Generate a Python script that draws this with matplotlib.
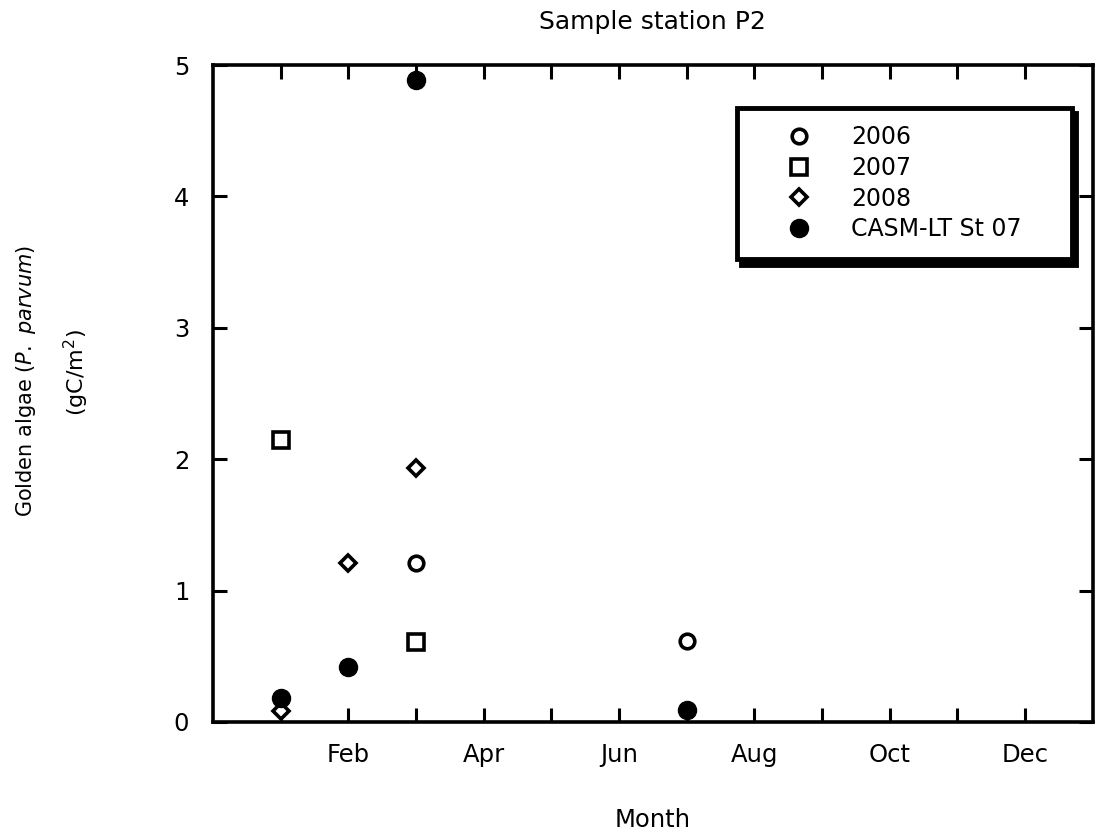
import numpy as np
import matplotlib
matplotlib.use("Agg")
import matplotlib.pyplot as plt

plt.rcParams['font.family'] = ['DejaVu Sans']
plt.rcParams['mathtext.fontset'] = 'dejavusans'

# month number (1 = Jan) and biomass in gC/m2
month_2006 = [3, 7]
val_2006 = [1.21, 0.62]
month_2007 = [1, 3]
val_2007 = [2.15, 0.61]
month_2008 = [1, 2, 3]
val_2008 = [0.08, 1.21, 1.93]
month_casm = [1, 2, 3, 7]
val_casm = [0.18, 0.42, 4.89, 0.09]

tick_months = [2, 4, 6, 8, 10, 12]
tick_labels = ['Feb', 'Apr', 'Jun', 'Aug', 'Oct', 'Dec']

fig = plt.figure(figsize=(10.95, 8.34), dpi=100)
ax = fig.add_axes([0.1945, 0.1343, 0.8035, 0.7877])

ax.plot(month_2006, val_2006, ls='none', marker='o', ms=10.5, mfc='white',
        mec='black', mew=2.6, label='2006')
ax.plot(month_2007, val_2007, ls='none', marker='s', ms=11, mfc='white',
        mec='black', mew=2.6, label='2007')
ax.plot(month_2008, val_2008, ls='none', marker='D', ms=8, mfc='white',
        mec='black', mew=2.6, label='2008')
ax.plot(month_casm, val_casm, ls='none', marker='o', ms=13, mfc='black',
        mec='black', label='CASM-LT St 07')

ax.set_xlim(0, 13)
ax.set_ylim(0, 5)
ax.set_xticks(tick_months)
ax.set_xticklabels(tick_labels)
ax.set_xticks([1, 3, 5, 7, 9, 11], minor=True)
ax.set_yticks([0, 1, 2, 3, 4, 5])

ax.tick_params(which='both', direction='in', top=True, right=True,
               length=10, width=2.2, labelsize=17.5, colors='black')
ax.tick_params(axis='x', pad=15)
ax.tick_params(axis='y', pad=17)
for s in ax.spines.values():
    s.set_linewidth(2.6)

ax.set_title('Sample station P2', fontsize=18, pad=26)
ax.set_xlabel('Month', fontsize=17.5, labelpad=30)

fig.text(0.024, 0.543, 'Golden algae ($\\it{P.\\ parvum}$)', rotation=90,
         fontsize=15, ha='center', va='center')
fig.text(0.070, 0.553, '(gC/m$^2$)', rotation=90,
         fontsize=16, ha='center', va='center')

leg = ax.legend(loc='upper left', bbox_to_anchor=(0.5955, 0.5, 0.3805, 0.435),
                mode='expand', fontsize=17,
                frameon=True, fancybox=False, edgecolor='black',
                borderpad=0.75, labelspacing=0.28, handlelength=3.8,
                handletextpad=0.3, borderaxespad=0,
                shadow={'ox': 3, 'oy': -4, 'color': 'black', 'alpha': 1})
leg.get_frame().set_linewidth(3.5)

fig.savefig('out.png', dpi=100)
